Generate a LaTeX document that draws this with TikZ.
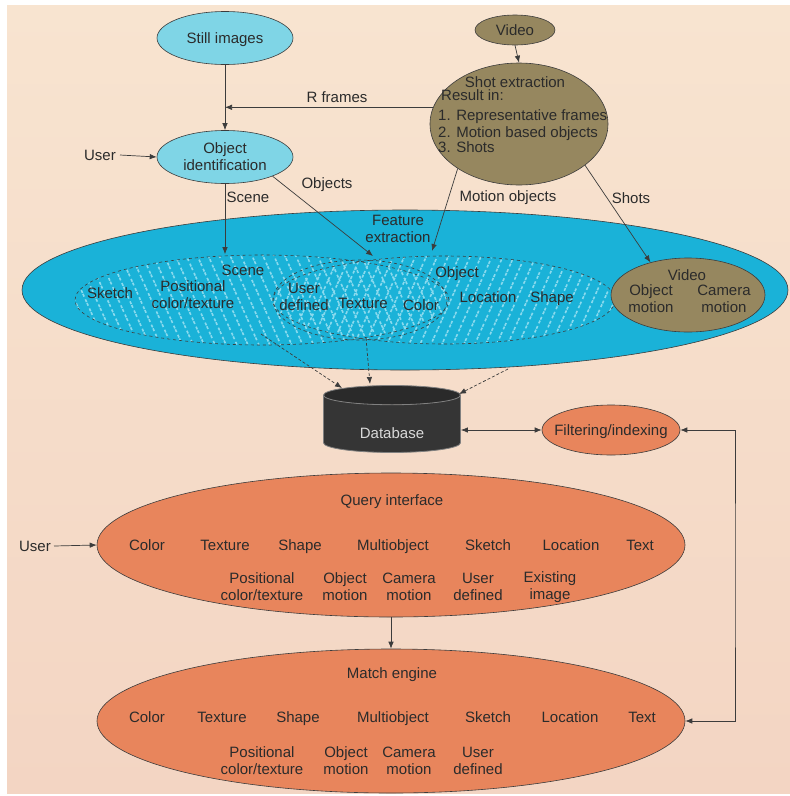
\documentclass[tikz,border=0pt]{standalone}
\usepackage{fontspec}
\setmainfont{Liberation Sans}
\usetikzlibrary{shapes.geometric,arrows.meta,patterns.meta}
\definecolor{peachtop}{HTML}{F8E4D0}
\definecolor{peachbot}{HTML}{F3D5C3}
\definecolor{cyanbig}{HTML}{1AB2D8}
\definecolor{cyanlight}{HTML}{7FD5E6}
\definecolor{olive}{HTML}{96875F}
\definecolor{orangeel}{HTML}{E8855C}
\definecolor{lincol}{HTML}{3C3C3C}
\definecolor{txt}{HTML}{2B2B2B}
\definecolor{hatch}{HTML}{8ADAEE}
\definecolor{dbbody}{HTML}{353535}
\definecolor{dbtop}{HTML}{2A2A2A}
\begin{document}
\begin{tikzpicture}[x=1pt,y=-1pt,
  every node/.style={font=\fontsize{15}{17}\selectfont, text=txt, align=center, inner sep=0pt},
  elli/.style={ellipse, draw=lincol, line width=0.6pt},
  arr/.style={draw=lincol, line width=0.7pt, -{Latex[length=7pt,width=5.5pt]}},
  darr/.style={draw=lincol, line width=0.7pt, dash pattern=on 3pt off 2pt, -{Latex[length=7pt,width=5.5pt]}},
  barr/.style={draw=lincol, line width=0.7pt, {Latex[length=7pt,width=5.5pt]}-{Latex[length=7pt,width=5.5pt]}},
  lbl/.style={anchor=base},
  lbltwo/.style={anchor=center},
  lblleft/.style={anchor=base west}]
\useasboundingbox (0,0) rectangle (790,796);
\fill[white] (0,0) rectangle (790,796);
\fill[top color=peachtop, bottom color=peachbot] (7,5) rectangle (790,793);

% top nodes
\node[elli, fill=cyanlight, minimum width=136pt, minimum height=53pt] (still) at (225,38) {};
\node[lbl] (stilltxt) at (225,43) {Still images};
\node[elli, fill=cyanlight, minimum width=136pt, minimum height=53pt] (objid) at (225,157) {};
\node[lbltwo] (objidtxt) at (225,157) {Object\\identification};
\node[elli, fill=olive, minimum width=80pt, minimum height=30pt] (video) at (515,30) {};
\node[lbl] (videotxt) at (515,35) {Video};
\node[elli, fill=olive, minimum width=178pt, minimum height=122pt] (shot) at (519,124) {};
\node[lbl] (shottitle) at (515,87) {Shot extraction};
\node[lblleft] (shotr) at (441,100) {Result in:};
\node[lblleft] (shot1) at (438,120) {1. Representative frames};
\node[lblleft] (shot2) at (438,137) {2. Motion based objects};
\node[lblleft] (shot3) at (438,152) {3. Shots};

% feature extraction
\node[elli, fill=cyanbig, minimum width=766pt, minimum height=160pt] (feat) at (405,290) {};
\node[elli, dashed, pattern={Lines[angle=-66,distance=10pt,line width=1.6pt]}, pattern color=hatch, minimum width=374pt, minimum height=90pt] (scene) at (262,300) {};
\node[elli, dashed, pattern={Lines[angle=66,distance=10pt,line width=1.6pt]}, pattern color=hatch, minimum width=342pt, minimum height=88pt] (object) at (444,300) {};
\node[elli, dashed, minimum width=174pt, minimum height=80pt] (overlap) at (360,300) {};
\node[elli, fill=olive, minimum width=154pt, minimum height=74pt] (video2) at (688,295) {};

\node[lbltwo] (featlbl) at (398,229) {Feature\\extraction};
\node[lbl] (scenelbl) at (243,275) {Scene};
\node[lbl] (sketch1) at (110,298) {Sketch};
\node[lbltwo] (pos1) at (193,295) {Positional\\color/texture};
\node[lbltwo] (ud1) at (304,297) {User\\defined};
\node[lbl] (tex1) at (363,308) {Texture};
\node[lbl] (col1) at (421,310) {Color};
\node[lbl] (objlbl) at (457,277) {Object};
\node[lbl] (loc1) at (488,302) {Location};
\node[lbl] (shp1) at (552,302) {Shape};
\node[lbl] (vidlbl) at (687,280) {Video};
\node[lbltwo] (om1) at (651,299) {Object\\motion};
\node[lbltwo] (cm1) at (724,299) {Camera\\motion};

% database and filtering
\node[cylinder, shape border rotate=90, aspect=0.3, minimum width=137pt, minimum height=67pt,
  draw=gray, line width=0.8pt, cylinder uses custom fill, cylinder body fill=dbbody,
  cylinder end fill=dbtop] (db) at (392,424) {\phantom{Database}};
\node[lbl, text=white!85!black] (dbtxt) at (392,438) {Database};
\node[elli, fill=orangeel, minimum width=138pt, minimum height=50pt] (filt) at (611,430) {};
\node[lbl] (filttxt) at (611,435) {Filtering/indexing};

% query interface
\node[elli, fill=orangeel, minimum width=588pt, minimum height=144pt] (query) at (391,545) {};
\node[lbl] (qtitle) at (392,505) {Query interface};
\node[lbl] (qc) at (147,550) {Color};
\node[lbl] (qt) at (225,550) {Texture};
\node[lbl] (qs) at (300,550) {Shape};
\node[lbl] (qm) at (393,550) {Multiobject};
\node[lbl] (qsk) at (488,550) {Sketch};
\node[lbl] (ql) at (571,550) {Location};
\node[lbl] (qx) at (640,550) {Text};
\node[lbltwo] (qp) at (262,587) {Positional\\color/texture};
\node[lbltwo] (qo) at (345,587) {Object\\motion};
\node[lbltwo] (qcm) at (409,587) {Camera\\motion};
\node[lbltwo] (qu) at (478,587) {User\\defined};
\node[lbltwo] (qe) at (550,587) {Existing\\image};

% match engine
\node[elli, fill=orangeel, minimum width=588pt, minimum height=144pt] (match) at (391,721) {};
\node[lbl] (mtitle) at (392,678) {Match engine};
\node[lbl] (mc) at (147,722) {Color};
\node[lbl] (mt) at (222,722) {Texture};
\node[lbl] (ms) at (298,722) {Shape};
\node[lbl] (mm) at (393,722) {Multiobject};
\node[lbl] (msk) at (488,722) {Sketch};
\node[lbl] (ml) at (570,722) {Location};
\node[lbl] (mx) at (642,722) {Text};
\node[lbltwo] (mp) at (262,761) {Positional\\color/texture};
\node[lbltwo] (mo) at (346,761) {Object\\motion};
\node[lbltwo] (mcm) at (409,761) {Camera\\motion};
\node[lbltwo] (mu) at (478,761) {User\\defined};

% users
\node[lbl] (user1) at (100,160) {User};
\node[lbl] (user2) at (35,551) {User};

% coordinates
\coordinate (cobj) at (373,256);
\coordinate (cmot) at (432,251);
\coordinate (da1) at (261,334);
\coordinate (da1e) at (342,388);
\coordinate (da2) at (366,338);
\coordinate (da2e) at (370,384);
\coordinate (da3) at (508,369);
\coordinate (da3e) at (459,394);
\coordinate (rt) at (735,575);
\coordinate (u1e) at (120,155);
\coordinate (u2e) at (54,546);

% connectors
\draw[arr] (still.south) -- (objid.north);
\draw[arr] (video.south) -- (shot.north);
\draw[arr] (shot.169) -- (shot.169 -| still.south);
\node[lbl] (rflbl) at (337,102) {R frames};
\draw[arr] (u1e) -- (objid.west);
\draw[arr] (objid.south) -- (objid.south |- scene.north);
\node[lbl] (scenecon) at (248,202) {Scene};
\draw[arr] (objid.-22) -- (cobj);
\node[lbl] (objcon) at (327,188) {Objects};
\draw[arr] (shot.-144) -- (cmot);
\node[lbl] (motcon) at (508,201) {Motion objects};
\draw[arr] (shot.-32) -- (video2.139);
\node[lbl] (shotcon) at (631,203) {Shots};
\draw[darr] (da1) -- (da1e);
\draw[darr] (da2) -- (da2e);
\draw[darr] (da3) -- (da3e);
\draw[barr] (filt.west -| db.east) -- (filt.west);
\draw[barr] (filt.east) -| (rt) |- (match.east);
\draw[arr] (u2e) -- (query.west);
\draw[arr] (query.south) -- (match.north);
\end{tikzpicture}
\end{document}
